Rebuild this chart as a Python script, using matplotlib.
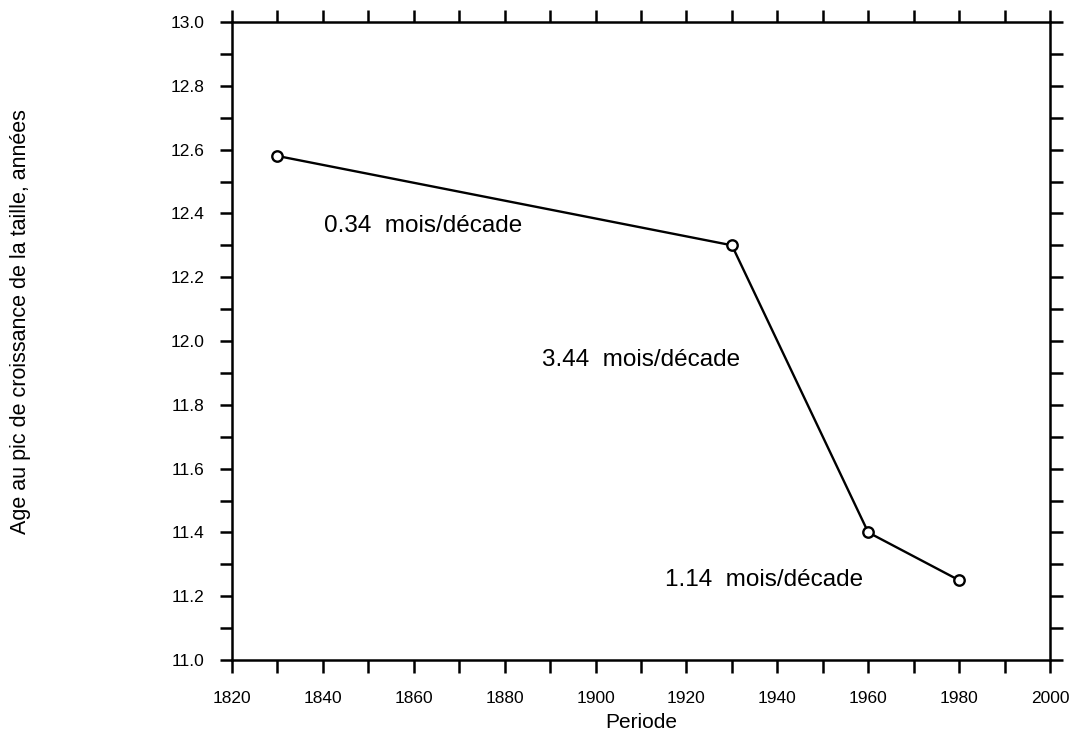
import matplotlib
matplotlib.use("Agg")
import matplotlib.pyplot as plt
from matplotlib.ticker import MultipleLocator, FormatStrFormatter

plt.rcParams['font.family'] = ['Liberation Sans', 'DejaVu Sans']

periods = [1830, 1930, 1960, 1980]
ages = [12.58, 12.30, 11.40, 11.25]
labels = ["0.34  mois/décade", "3.44  mois/décade", "1.14  mois/décade"]
label_x = [1862, 1910, 1937]
label_y = [12.36, 11.94, 11.25]

fig = plt.figure(figsize=(10.72, 7.35), dpi=100)
ax = fig.add_axes([232/1072, 1-660/735, (1050-232)/1072, (660-22)/735])

ax.plot(periods, ages, color='black', lw=1.7, marker='o', ms=7.5,
        mfc='white', mec='black', mew=1.7, zorder=3)
for t, x, y in zip(labels, label_x, label_y):
    ax.text(x, y, t, ha='center', va='center', fontsize=17.5)

ax.set_xlim(1820, 2000)
ax.set_ylim(11.0, 13.0)
ax.xaxis.set_major_locator(MultipleLocator(20))
ax.xaxis.set_minor_locator(MultipleLocator(10))
ax.yaxis.set_major_locator(MultipleLocator(0.2))
ax.yaxis.set_minor_locator(MultipleLocator(0.1))
ax.yaxis.set_major_formatter(FormatStrFormatter('%.1f'))
for which in ('major', 'minor'):
    ax.tick_params(which=which, direction='out', length=9, width=1.8,
                   top=True, right=True, labelsize=12.5)
ax.tick_params(axis='x', which='major', pad=13)
ax.tick_params(axis='y', which='major', pad=11)
for s in ax.spines.values():
    s.set_linewidth(1.8)

ax.set_xlabel("Periode", fontsize=15, labelpad=5)
ax.set_ylabel("Age au pic de croissance de la taille, années", fontsize=15.5)
ax.yaxis.set_label_coords(-0.246, 0.53)

fig.savefig("out.png", dpi=100)
